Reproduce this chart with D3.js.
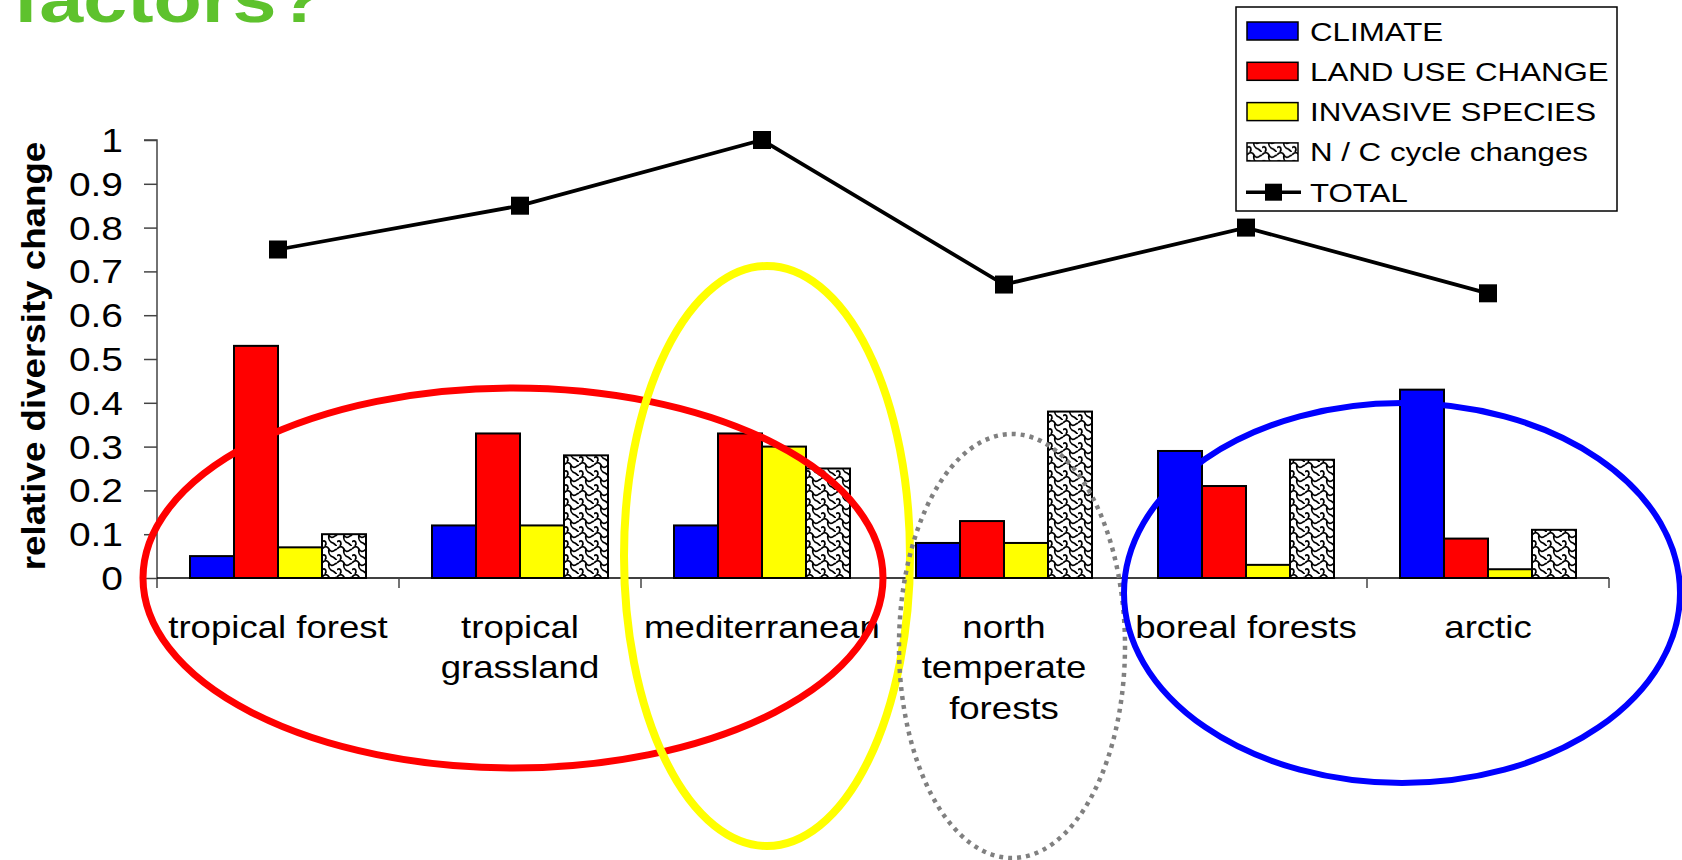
<!DOCTYPE html>
<html>
<head>
<meta charset="utf-8">
<script src="https://cdn.jsdelivr.net/npm/d3@7"></script>
<style>
  body { margin: 0; background: #fff; }
  svg { display: block; }
  text { font-family: "Liberation Sans", Arial, sans-serif; }
</style>
</head>
<body>
<script>
// data
const categories = ["tropical forest", "tropical\ngrassland", "mediterranean", "north\ntemperate\nforests", "boreal forests", "arctic"];
const seriesNames = ["CLIMATE", "LAND USE CHANGE", "INVASIVE SPECIES", "N / C cycle changes"];
const climate  = [0.05, 0.12, 0.12, 0.08, 0.29, 0.43];
const landUse  = [0.53, 0.33, 0.33, 0.13, 0.21, 0.09];
const invasive = [0.07, 0.12, 0.30, 0.08, 0.03, 0.02];
const ncCycle  = [0.10, 0.28, 0.25, 0.38, 0.27, 0.11];
const total    = [0.75, 0.85, 1.00, 0.67, 0.80, 0.65];
const yTicks   = [0, 0.1, 0.2, 0.3, 0.4, 0.5, 0.6, 0.7, 0.8, 0.9, 1];

const width = 1682;
const height = 860;
const sx = 1.18; // the slide is stretched sideways, text too

const svg = d3.select("body").append("svg").attr("width", width).attr("height", height);

// hatch for the N / C series
const defs = svg.append("defs");
const pat = defs.append("pattern")
  .attr("id", "weave")
  .attr("patternUnits", "userSpaceOnUse")
  .attr("width", 15).attr("height", 14);
pat.append("rect").attr("width", 15).attr("height", 14).attr("fill", "#fff");
pat.append("path")
  .attr("d", "M0,3 C3,0 5,0 7,3 C8,6 11,6 13,4 L15,3 M7,3 C6,7 8,10 11,11 C13,12 14,14 15,14 M0,10 C2,8 4,9 4,12 L3,14")
  .attr("fill", "none").attr("stroke", "#000").attr("stroke-width", 1.7);

const series = [
  { name: seriesNames[0], values: climate,  fill: "#0000ff" },
  { name: seriesNames[1], values: landUse,  fill: "#ff0000" },
  { name: seriesNames[2], values: invasive, fill: "#ffff00" },
  { name: seriesNames[3], values: ncCycle,  fill: "url(#weave)" }
];

const plot = { left: 157, right: 1609, top: 140, bottom: 578 };

/** scales */
const x0 = d3.scaleBand()
  .domain(categories)
  .range([plot.left, plot.right]);
const x1 = d3.scaleBand()
  .domain(seriesNames)
  .range([0, x0.bandwidth()])
  .paddingOuter(0.75);
const yScale = d3.scaleLinear()
  .domain([0, 1])
  .range([plot.bottom, plot.top]);

// title (cut at the top of the slide)
svg.append("text")
  .attr("transform", "translate(13,22) scale(" + sx + ",1)")
  .attr("font-size", 67).attr("font-weight", "bold")
  .attr("fill", "#5ec22d")
  .text("factors?");

/** y axis */
const axisy = d3.axisLeft(yScale)
  .tickValues(yTicks)
  .tickSize(13)
  .tickFormat(d => String(+d.toFixed(1)));
const gy = svg.append("g")
  .attr("transform", "translate(" + plot.left + ",0)")
  .call(axisy);
gy.select(".domain").attr("stroke", "#444").attr("stroke-width", 1.5)
  .attr("d", "M-13," + yScale(1) + "H0V" + (plot.bottom + 10));
gy.selectAll(".tick line").attr("stroke", "#444").attr("stroke-width", 1.5);
gy.selectAll(".tick text")
  .attr("x", null).attr("dy", null)
  .attr("transform", "translate(-34,11.5) scale(" + sx + ",1)")
  .attr("font-size", 33).attr("fill", "#000")
  .attr("font-family", "Liberation Sans, Arial, sans-serif");

svg.append("text")
  .attr("transform", "translate(45," + ((plot.top + plot.bottom) / 2 - 3) + ") rotate(-90) scale(1.08,1)")
  .attr("text-anchor", "middle")
  .attr("font-size", 34).attr("font-weight", "bold")
  .text("relative diversity change");

/** bars */
const groups = svg.append("g")
  .selectAll("g")
  .data(categories)
  .join("g")
  .attr("transform", d => "translate(" + x0(d) + ",0)");

groups.selectAll("rect")
  .data((c, i) => series.map(s => ({ s: s, v: s.values[i] })))
  .join("rect")
  .attr("x", d => x1(d.s.name))
  .attr("y", d => yScale(d.v))
  .attr("width", x1.bandwidth())
  .attr("height", d => yScale(0) - yScale(d.v))
  .attr("fill", d => d.s.fill)
  .attr("stroke", "#000")
  .attr("stroke-width", 2);

/** x axis */
const gx = svg.append("g");
gx.append("line")
  .attr("x1", plot.left).attr("x2", plot.right)
  .attr("y1", plot.bottom).attr("y2", plot.bottom)
  .attr("stroke", "#000").attr("stroke-width", 1.5);
gx.selectAll(".xtick")
  .data(categories)
  .join("line")
  .attr("class", "xtick")
  .attr("x1", d => x0(d) + x0.bandwidth())
  .attr("x2", d => x0(d) + x0.bandwidth())
  .attr("y1", plot.bottom).attr("y2", plot.bottom + 10)
  .attr("stroke", "#444").attr("stroke-width", 1.5);

const labels = gx.selectAll(".xlab")
  .data(categories)
  .join("text")
  .attr("class", "xlab")
  .attr("text-anchor", "middle")
  .attr("font-size", 31)
  .attr("transform", d => "translate(" + (x0(d) + x0.bandwidth() / 2) + ",638) scale(" + sx + ",1)");
labels.selectAll("tspan")
  .data(d => d.split("\n"))
  .join("tspan")
  .attr("x", 0)
  .attr("dy", (d, i) => i === 0 ? 0 : 40.5)
  .text(d => d);

/** TOTAL line */
const line = d3.line()
  .x((d, i) => x0(categories[i]) + x0.bandwidth() / 2)
  .y(d => yScale(d));
svg.append("path")
  .datum(total)
  .attr("d", line)
  .attr("fill", "none")
  .attr("stroke", "#000")
  .attr("stroke-width", 3.8);
svg.selectAll(".mark")
  .data(total)
  .join("rect")
  .attr("class", "mark")
  .attr("x", (d, i) => x0(categories[i]) + x0.bandwidth() / 2 - 9)
  .attr("y", d => yScale(d) - 9)
  .attr("width", 18).attr("height", 18)
  .attr("fill", "#000");

/** hand-drawn rings over the chart */
const over = svg.append("g").attr("fill", "none");
over.append("ellipse").attr("cx", 513).attr("cy", 578).attr("rx", 370).attr("ry", 190)
  .attr("stroke", "#ff0000").attr("stroke-width", 7);
over.append("ellipse").attr("cx", 767).attr("cy", 556).attr("rx", 143).attr("ry", 290)
  .attr("stroke", "#ffff00").attr("stroke-width", 8);
over.append("ellipse").attr("cx", 1012).attr("cy", 646).attr("rx", 113).attr("ry", 212)
  .attr("stroke", "#808080").attr("stroke-width", 4.5).attr("stroke-dasharray", "4,5");
over.append("ellipse").attr("cx", 1402).attr("cy", 593).attr("rx", 278).attr("ry", 190)
  .attr("stroke", "#0000ff").attr("stroke-width", 6);

/** legend */
const legend = svg.append("g");
legend.append("rect")
  .attr("x", 1236).attr("y", 7).attr("width", 381).attr("height", 204)
  .attr("fill", "#fff").attr("stroke", "#000").attr("stroke-width", 1.5);
const items = legend.selectAll(".item")
  .data(seriesNames.concat(["TOTAL"]))
  .join("g")
  .attr("class", "item")
  .attr("transform", (d, i) => "translate(1247," + (31 + i * 40.3) + ")");
items.filter((d, i) => i < 4).append("rect")
  .attr("x", 0).attr("y", -9).attr("width", 51).attr("height", 18)
  .attr("fill", (d, i) => series[i].fill)
  .attr("stroke", "#000").attr("stroke-width", 1.5);
const tot = items.filter(d => d === "TOTAL");
tot.append("line").attr("x1", -1).attr("x2", 54).attr("y1", 0).attr("y2", 0)
  .attr("stroke", "#000").attr("stroke-width", 3.5);
tot.append("rect").attr("x", 18).attr("y", -8.5).attr("width", 17).attr("height", 17).attr("fill", "#000");
items.append("text")
  .attr("transform", "translate(63,9.5) scale(" + sx + ",1)")
  .attr("font-size", 26.5)
  .text(d => d);
</script>
</body>
</html>
